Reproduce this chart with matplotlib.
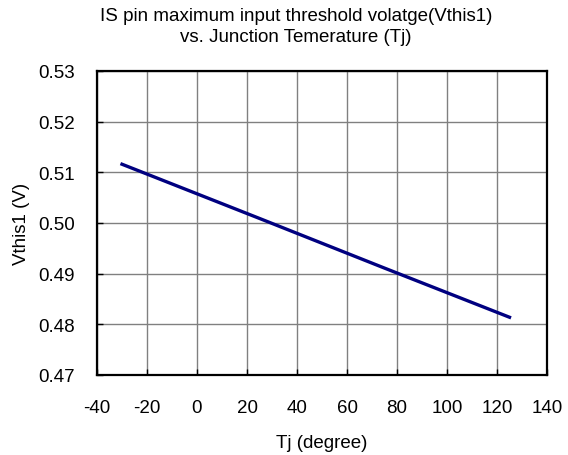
import matplotlib
matplotlib.use("Agg")
import matplotlib.pyplot as plt

# data
tj = [-30, 25, 75, 125]
vthis1 = [0.5116, 0.5009, 0.4911, 0.4814]

x_ticks = [-40, -20, 0, 20, 40, 60, 80, 100, 120, 140]
y_ticks = [0.47, 0.48, 0.49, 0.50, 0.51, 0.52, 0.53]

plt.rcParams["font.family"] = ["Liberation Sans", "DejaVu Sans"]

fig = plt.figure(figsize=(5.68, 4.56), dpi=100)
ax = fig.add_axes([97 / 568, 1 - 376 / 456, 450 / 568, 304 / 456])

ax.plot(tj, vthis1, color="#000080", linewidth=2.4)

ax.set_xlim(-40, 140)
ax.set_ylim(0.47, 0.53)
ax.set_xticks(x_ticks)
ax.set_yticks(y_ticks)
ax.set_xticklabels([str(t) for t in x_ticks])
ax.set_yticklabels(["%.2f" % t for t in y_ticks])
ax.tick_params(direction="in", length=4, width=1, labelsize=13.5)
ax.tick_params(axis="x", pad=17)
ax.tick_params(axis="y", pad=16)
ax.grid(True, color="#808080", linewidth=1)

for s in ax.spines.values():
    s.set_linewidth(1.6)
    s.set_color("black")

ax.set_xlabel("Tj (degree)", fontsize=13.5, labelpad=13)
ax.set_ylabel("Vthis1 (V)", fontsize=13.5, labelpad=6)

fig.text(296 / 568, 1 - 27 / 456,
         "IS pin maximum input threshold volatge(Vthis1)\nvs. Junction Temerature (Tj)",
         ha="center", va="center", fontsize=13.5, linespacing=1.25)

fig.savefig("out.png", dpi=100)
